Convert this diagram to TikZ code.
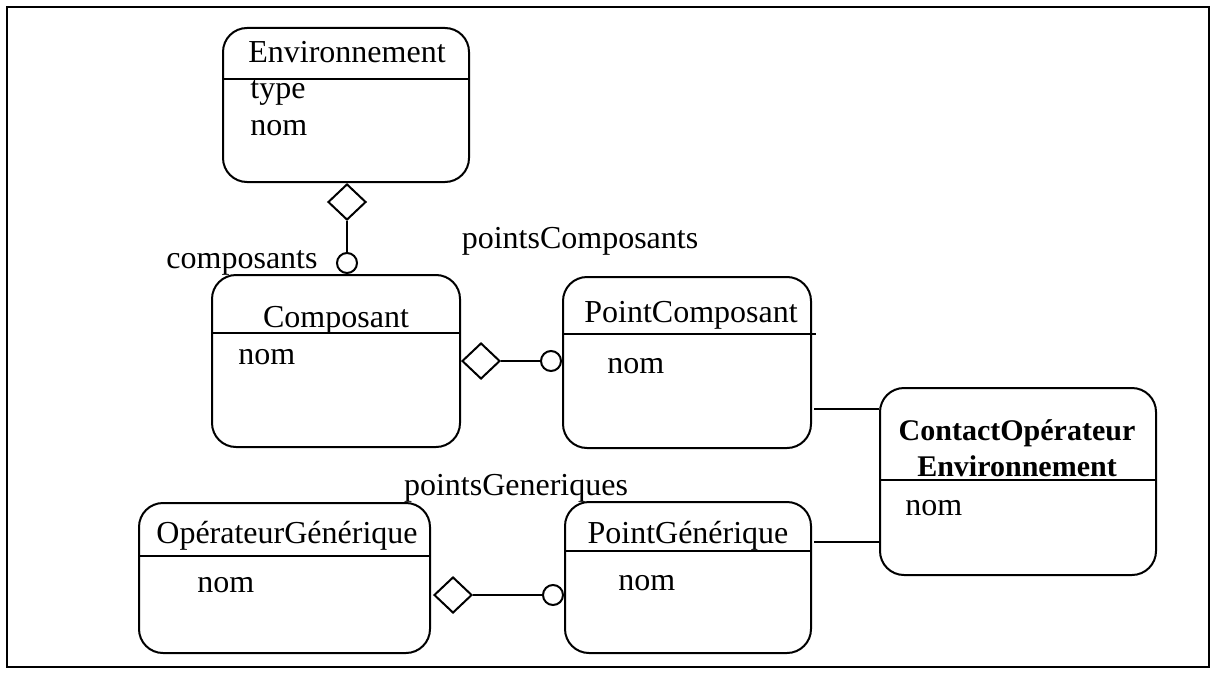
\documentclass[tikz,border=0pt]{standalone}
\usepackage{fontspec}
\setmainfont{Liberation Serif}
\usetikzlibrary{shapes,arrows,calc,positioning}
\tikzstyle{line} = [draw, line width=1pt]
\tikzstyle{classbox} = [draw, line width=1pt, rectangle, rounded corners=12pt, inner sep=0pt]
\tikzstyle{clsname} = [anchor=base, inner sep=0pt, font=\fontsize{16}{19}\selectfont]
\tikzstyle{boldname} = [anchor=base, inner sep=0pt, font=\fontsize{15}{18}\selectfont\bfseries]
\tikzstyle{attr} = [anchor=base west, inner sep=0pt, font=\fontsize{16}{19}\selectfont]
\tikzstyle{role} = [anchor=base, inner sep=0pt, font=\fontsize{16}{19}\selectfont]
\tikzstyle{agg} = [draw, line width=1pt, diamond, fill=white, minimum width=19pt, minimum height=18pt, inner sep=0pt]
\tikzstyle{card} = [draw, line width=1pt, circle, fill=white, minimum size=10pt, inner sep=0pt]

\begin{document}
\begin{tikzpicture}[x=0.5pt, y=-0.5pt]
        \useasboundingbox (0,0) rectangle (1213,674);
        \draw[line width=1.2pt] (7,7) rectangle (1209,667);
        % classes
        \node[classbox, minimum width=123pt, minimum height=77pt] (env) at (346,105) {};
        \node[classbox, minimum width=124pt, minimum height=86pt] (comp) at (336,361) {};
        \node[classbox, minimum width=124pt, minimum height=85.5pt] (ptcomp) at (687,362.5) {};
        \node[classbox, minimum width=138pt, minimum height=93.5pt] (contact) at (1018,481.5) {};
        \node[classbox, minimum width=145.5pt, minimum height=75pt] (opgen) at (284.5,578) {};
        \node[classbox, minimum width=123pt, minimum height=75.5pt] (ptgen) at (688,577.5) {};
        % header lines
        \path[line] (env.west |- 0,79) -- (env.east |- 0,79);
        \path[line] (comp.west |- 0,333) -- (comp.east |- 0,333);
        \path[line] (ptcomp.west |- 0,334) -- ([xshift=2pt]ptcomp.east |- 0,334);
        \path[line] (contact.west |- 0,480) -- (contact.east |- 0,480);
        \path[line] (opgen.west |- 0,556) -- (opgen.east |- 0,556);
        \path[line] (ptgen.west |- 0,551) -- (ptgen.east |- 0,551);
        % names and attributes
        \node[clsname] (envname) at (347,63) {Environnement};
        \node[attr] (envtype) at (250,98) {type};
        \node[attr] (envnom) at (250,135) {nom};
        \node[clsname] (compname) at (336,327) {Composant};
        \node[attr] (compnom) at (238,364) {nom};
        \node[clsname] (ptcompname) at (691,322) {PointComposant};
        \node[attr] (ptcompnom) at (607,373) {nom};
        \node[boldname] (contactname) at (1017,440) {ContactOpérateur};
        \node[boldname] (contactname2) at (1017,476) {Environnement};
        \node[attr] (contactnom) at (905,515) {nom};
        \node[clsname] (opgenname) at (287,543) {OpérateurGénérique};
        \node[attr] (opgennom) at (197,592) {nom};
        \node[clsname] (ptgenname) at (688,543) {PointGénérique};
        \node[attr] (ptgennom) at (618,590) {nom};
        % roles
        \node[role] (rcomp) at (242,268) {composants};
        \node[role] (rptcomp) at (580,248) {pointsComposants};
        \node[role] (rptgen) at (516,495) {pointsGeneriques};
        % aggregations
        \node[agg, anchor=north] (denv) at (env.south -| 347,0) {};
        \node[card, anchor=south] (cenv) at (comp.north -| denv.south) {};
        \node[agg, anchor=west] (dcomp) at (comp.east |- 0,361) {};
        \node[card, anchor=east] (cptcomp) at (ptcomp.west |- dcomp.east) {};
        \node[agg, anchor=west] (dopgen) at ([xshift=1pt]opgen.east |- 0,595) {};
        \node[card, anchor=east] (cptgen) at (ptgen.west |- dopgen.east) {};
        \path[line] (denv) -- (cenv);
        \path[line] (dcomp) -- (cptcomp);
        \path[line] (dopgen) -- (cptgen);
        % links to contact
        \path[line] ([xshift=1pt]ptcomp.east |- 0,409) -- (contact.west |- 0,409);
        \path[line] ([xshift=1pt]ptgen.east |- 0,542) -- (contact.west |- 0,542);
    \end{tikzpicture}
\end{document}
